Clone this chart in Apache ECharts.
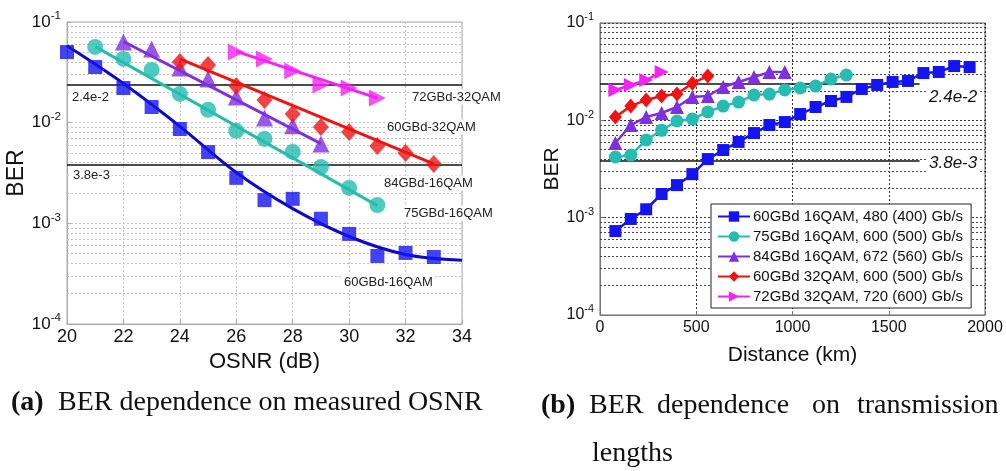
<!DOCTYPE html>
<html><head><meta charset="utf-8">
<script src="https://cdn.jsdelivr.net/npm/echarts@6/dist/echarts.min.js"></script>
<style>html,body{margin:0;padding:0;background:#fff}#c{width:1006px;height:471px}</style>
</head><body><div id="c"></div>
<script>
// ---------- Panel (a): BER vs OSNR ----------
const osnr60_16 = [20,21,22,23,24,25,26,27,28,29,30,31,32,33];
const ber60_16  = [0.0503,0.0357,0.0221,0.0143,0.00865,0.0051,0.00283,0.0017,0.00175,0.00111,0.000785,0.000474,0.000508,0.000463];
const osnr75_16 = [21,22,23,24,25,26,27,28,29,30,31];
const ber75_16  = [0.0565,0.043,0.0334,0.0193,0.0134,0.0083,0.00689,0.00512,0.00363,0.00225,0.00152];
const osnr84_16 = [22,23,24,25,26,27,28,29];
const ber84_16  = [0.0633,0.054,0.0349,0.0272,0.018,0.0111,0.0093,0.00615];
const osnr60_32 = [24,25,26,27,28,29,30,31,32,33];
const ber60_32  = [0.0401,0.0374,0.0231,0.0168,0.0122,0.00906,0.00809,0.00588,0.005,0.00389];
const osnr72_32 = [26,27,28,29,30,31];
const ber72_32  = [0.0504,0.043,0.0326,0.0237,0.0221,0.0176];
// fitted curves
const fitOsnr60_16 = [20,22,24,26,28,30,32,34];
const fitBer60_16  = [0.058,0.0245,0.0092,0.0032,0.0014,0.00074,0.00049,0.00043];
const fitOsnr75_16 = [21,31];  const fitBer75_16 = [0.057,0.0015];
const fitOsnr84_16 = [22,29];  const fitBer84_16 = [0.064,0.0062];
const fitOsnr60_32 = [24,33];  const fitBer60_32 = [0.043,0.0039];
const fitOsnr72_32 = [26,31];  const fitBer72_32 = [0.051,0.0175];

// ---------- Panel (b): BER vs distance ----------
const dist = [80,160,240,320,400,480,560,640,720,800,880,960,1040,1120,1200,1280,1360,1440,1520,1600,1680,1760,1840,1920];
const d60_16 = [0.000728,0.00097,0.00122,0.00175,0.00216,0.0028,0.004,0.00495,0.006,0.0074,0.00895,0.0096,0.0116,0.0137,0.0158,0.0174,0.021,0.0231,0.0248,0.0254,0.0306,0.0314,0.0361,0.0353];
const d75_16 = [0.0042,0.0044,0.00628,0.0079,0.00984,0.0103,0.0122,0.014,0.0154,0.0182,0.0186,0.0205,0.0215,0.0225,0.0266,0.0292];
const d84_16 = [0.00585,0.00895,0.0108,0.0119,0.0137,0.0174,0.0178,0.022,0.0248,0.0279,0.0313,0.0313];
const d60_32 = [0.0108,0.014,0.0162,0.0178,0.0186,0.0241,0.0285];
const d72_32 = [0.0205,0.0231,0.026,0.0313];
const legendNames = ['60GBd 16QAM, 480 (400) Gb/s','75GBd 16QAM, 600 (500) Gb/s','84GBd 16QAM, 672 (560) Gb/s','60GBd 32QAM, 600 (500) Gb/s','72GBd 32QAM, 720 (600) Gb/s'];

// thresholds & grid values
const thresholds = [0.024, 0.0038];
const thresholdLabels = ['2.4e-2', '3.8e-3'];
const xRangeA = [20, 34];
const xRangeB = [0, 2000];
const thresholdEndB = 1660;
const minorGrid = [2e-4,3e-4,4e-4,5e-4,6e-4,7e-4,8e-4,9e-4,2e-3,3e-3,4e-3,5e-3,6e-3,7e-3,8e-3,9e-3,2e-2,3e-2,4e-2,5e-2,6e-2,7e-2,8e-2,9e-2];
const curveLabels = ['72GBd-32QAM','60GBd-32QAM','84GBd-16QAM','75GBd-16QAM','60GBd-16QAM'];

const C = {blue:'#1414f0', blueL:'#0a0ac8', cyan:'#26bcb2', purple:'#7f2fe0', red:'#ee1414', mag:'#f423f4'};
const SANS = 'Liberation Sans, Arial, sans-serif';
const SERIF = 'Liberation Serif, Times New Roman, serif';

function zip(a,b){return a.map((v,i)=>[v,b[i]]);}
function supFmt(v){const e=Math.round(Math.log10(v));return '{b|10}{s|'+e+'}';}
function hLines(vals, x0, x1){return vals.map(v=>[{coord:[x0,v]},{coord:[x1,v]}]);}

const chart = echarts.init(document.getElementById('c'), null, {renderer:'canvas'});

function yAxisCfg(gi, fs){
  return {type:'log', logBase:10, gridIndex:gi, min:1e-4, max:1e-1, splitNumber:3,
    axisLine:{show:true, lineStyle:{color: gi===0?'#aaa':'#777'}},
    axisTick:{show:true, inside:true, length:4, lineStyle:{color:gi===0?'#aaa':'#777'}},
    splitLine:{show:true, lineStyle:{type:[2,2], color: gi===0?'#c4c4c4':'#333', width:1}},
    minorTick:{show:false}, minorSplitLine:{show:false},
    axisLabel:{formatter:supFmt, margin:6, rich:{b:{fontFamily:SANS,fontSize:fs,color:'#111'}, s:{fontFamily:SANS,fontSize:fs*0.68,color:'#111',padding:[0,0,fs*0.7,0]}}},
    name:'BER', nameLocation:'middle', nameGap: gi===0?35:27, nameRotate:90,
    nameTextStyle:{fontFamily:SANS, fontSize: gi===0?23:21, color:'#111'}
  };
}

function lineHolder(xi, z, color, type, width, data){
  return {type:'line', xAxisIndex:xi, yAxisIndex:xi, data:[], silent:true, z:z,
    markLine:{silent:true, z:z, symbol:['none','none'], label:{show:false}, animation:false,
      lineStyle:{type:type, color:color, width:width}, data:data}};
}

const series = [
  lineHolder(0, 1, '#c4c4c4', [2,2], 1, hLines(minorGrid, xRangeA[0], xRangeA[1])),
  lineHolder(1, 1, '#444', [2,2], 1, hLines(minorGrid, xRangeB[0], xRangeB[1])),
  lineHolder(0, 2, '#111', 'solid', 1.6, hLines(thresholds, xRangeA[0], xRangeA[1])),
  lineHolder(1, 2, '#111', 'solid', 1.6, hLines(thresholds, xRangeB[0], thresholdEndB)),
  // fits panel a
  {type:'line', xAxisIndex:0, yAxisIndex:0, data:zip(fitOsnr60_16,fitBer60_16), smooth:0.35, showSymbol:false, lineStyle:{color:C.blueL,width:3}, z:3},
  {type:'line', xAxisIndex:0, yAxisIndex:0, data:zip(fitOsnr75_16,fitBer75_16), showSymbol:false, lineStyle:{color:C.cyan,width:3}, z:3},
  {type:'line', xAxisIndex:0, yAxisIndex:0, data:zip(fitOsnr84_16,fitBer84_16), showSymbol:false, lineStyle:{color:C.purple,width:3}, z:3},
  {type:'line', xAxisIndex:0, yAxisIndex:0, data:zip(fitOsnr60_32,fitBer60_32), showSymbol:false, lineStyle:{color:C.red,width:3}, z:3},
  {type:'line', xAxisIndex:0, yAxisIndex:0, data:zip(fitOsnr72_32,fitBer72_32), showSymbol:false, lineStyle:{color:C.mag,width:3}, z:3},
  // markers panel a
  {type:'scatter', xAxisIndex:0, yAxisIndex:0, data:zip(osnr60_16,ber60_16), symbol:'rect', symbolSize:14, itemStyle:{color:C.blue}, z:4},
  {type:'scatter', xAxisIndex:0, yAxisIndex:0, data:zip(osnr75_16,ber75_16), symbol:'circle', symbolSize:16, itemStyle:{color:C.cyan}, z:4},
  {type:'scatter', xAxisIndex:0, yAxisIndex:0, data:zip(osnr84_16,ber84_16), symbol:'triangle', symbolSize:17, itemStyle:{color:C.purple}, z:4},
  {type:'scatter', xAxisIndex:0, yAxisIndex:0, data:zip(osnr60_32,ber60_32), symbol:'diamond', symbolSize:[16,18], itemStyle:{color:C.red}, z:4},
  {type:'scatter', xAxisIndex:0, yAxisIndex:0, data:zip(osnr72_32,ber72_32), symbol:'triangle', symbolRotate:-90, symbolSize:17, itemStyle:{color:C.mag}, z:4},
  // panel b
  {name:legendNames[0], type:'line', xAxisIndex:1, yAxisIndex:1, data:zip(dist,d60_16), symbol:'rect', symbolSize:12, color:C.blue, lineStyle:{width:2.5,color:C.blue}, itemStyle:{color:C.blue}, z:4},
  {name:legendNames[1], type:'line', xAxisIndex:1, yAxisIndex:1, data:zip(dist,d75_16), symbol:'circle', symbolSize:13, color:C.cyan, lineStyle:{width:2.5,color:C.cyan}, itemStyle:{color:C.cyan}, z:4},
  {name:legendNames[2], type:'line', xAxisIndex:1, yAxisIndex:1, data:zip(dist,d84_16), symbol:'triangle', symbolSize:14, color:C.purple, lineStyle:{width:2.5,color:C.purple}, itemStyle:{color:C.purple}, z:4},
  {name:legendNames[3], type:'line', xAxisIndex:1, yAxisIndex:1, data:zip(dist,d60_32), symbol:'diamond', symbolSize:[13,15], color:C.red, lineStyle:{width:2.5,color:C.red}, itemStyle:{color:C.red}, z:4},
  {name:legendNames[4], type:'line', xAxisIndex:1, yAxisIndex:1, data:zip(dist,d72_32), symbol:'triangle', symbolRotate:-90, symbolSize:14, color:C.mag, lineStyle:{width:2.5,color:C.mag}, itemStyle:{color:C.mag}, z:4}
];

function txt(text,x,y,opt){
  return {type:'text', x:x, y:y, z:10, style:Object.assign({text:text, fill:'#222', font:'13px '+SANS, textVerticalAlign:'middle', textAlign:'left'}, opt||{})};
}

const graphics = [
  txt(curveLabels[0],410,97,{backgroundColor:'#fff',padding:[1,2]}),
  txt(curveLabels[1],385,127,{backgroundColor:'#fff',padding:[1,2]}),
  txt(curveLabels[2],382,183,{backgroundColor:'#fff',padding:[1,2]}),
  txt(curveLabels[3],402,213,{backgroundColor:'#fff',padding:[1,2]}),
  txt(curveLabels[4],342,282,{backgroundColor:'#fff',padding:[1,2]}),
  txt(thresholdLabels[0],70,97,{backgroundColor:'#fff',padding:[1,2]}),
  txt(thresholdLabels[1],71,175,{backgroundColor:'#fff',padding:[1,2]}),
  txt(thresholdLabels[0],926,97,{font:'italic 17px '+SANS, fill:'#111', backgroundColor:'#fff',padding:[1,3]}),
  txt(thresholdLabels[1],926,163,{font:'italic 17px '+SANS, fill:'#111', backgroundColor:'#fff',padding:[1,3]}),
  // captions
  txt('(a)',11,403,{font:'bold 28px '+SERIF, fill:'#111'}),
  txt('BER dependence on measured OSNR',58,403,{font:'28px '+SERIF, fill:'#111'}),
  txt('(b)',541,406,{font:'bold 28px '+SERIF, fill:'#111'}),
  txt('BER',589,406,{font:'28px '+SERIF, fill:'#111'}),
  txt('dependence',657,406,{font:'28px '+SERIF, fill:'#111'}),
  txt('on',812,406,{font:'28px '+SERIF, fill:'#111'}),
  txt('transmission',857,406,{font:'28px '+SERIF, fill:'#111'}),
  txt('lengths',592,454,{font:'28px '+SERIF, fill:'#111'})
];

chart.setOption({
  animation:false,
  backgroundColor:'#fff',
  textStyle:{fontFamily:SANS},
  grid:[
    {left:67, top:22, width:395, height:302, show:true, borderColor:'#aaa', borderWidth:1, backgroundColor:'#fff'},
    {left:600, top:23, width:385, height:292, show:true, borderColor:'#666', borderWidth:1, backgroundColor:'#fff'}
  ],
  xAxis:[
    {type:'value', gridIndex:0, min:xRangeA[0], max:xRangeA[1], interval:2,
     axisLine:{lineStyle:{color:'#aaa'}}, axisTick:{inside:true,length:4,lineStyle:{color:'#aaa'}},
     splitLine:{show:true, lineStyle:{type:[2,2], color:'#c4c4c4'}},
     axisLabel:{fontFamily:SANS, fontSize:18, color:'#111', margin:4},
     name:'OSNR (dB)', nameLocation:'middle', nameGap:21, nameTextStyle:{fontFamily:SANS,fontSize:22,color:'#111'}},
    {type:'value', gridIndex:1, min:xRangeB[0], max:xRangeB[1], interval:500,
     axisLine:{lineStyle:{color:'#777'}}, axisTick:{inside:true,length:4,lineStyle:{color:'#777'}},
     splitLine:{show:true, lineStyle:{type:[2,2], color:'#333'}},
     axisLabel:{fontFamily:SANS, fontSize:16, color:'#111', margin:5, formatter:v=>String(v)},
     name:'Distance (km)', nameLocation:'middle', nameGap:30, nameTextStyle:{fontFamily:SANS,fontSize:21,color:'#111'}}
  ],
  yAxis:[ yAxisCfg(0,17), yAxisCfg(1,16) ],
  legend:{data:legendNames, left:711, top:204, orient:'vertical', itemWidth:32, itemHeight:13, itemGap:5,
    padding:[5,8,4,6], backgroundColor:'#fff', borderColor:'#222', borderWidth:1, z:6,
    textStyle:{fontFamily:SANS, fontSize:15, color:'#111', padding:[0,0,0,-2]}},
  series: series,
  graphic:{elements:graphics}
});
</script>
</body></html>
